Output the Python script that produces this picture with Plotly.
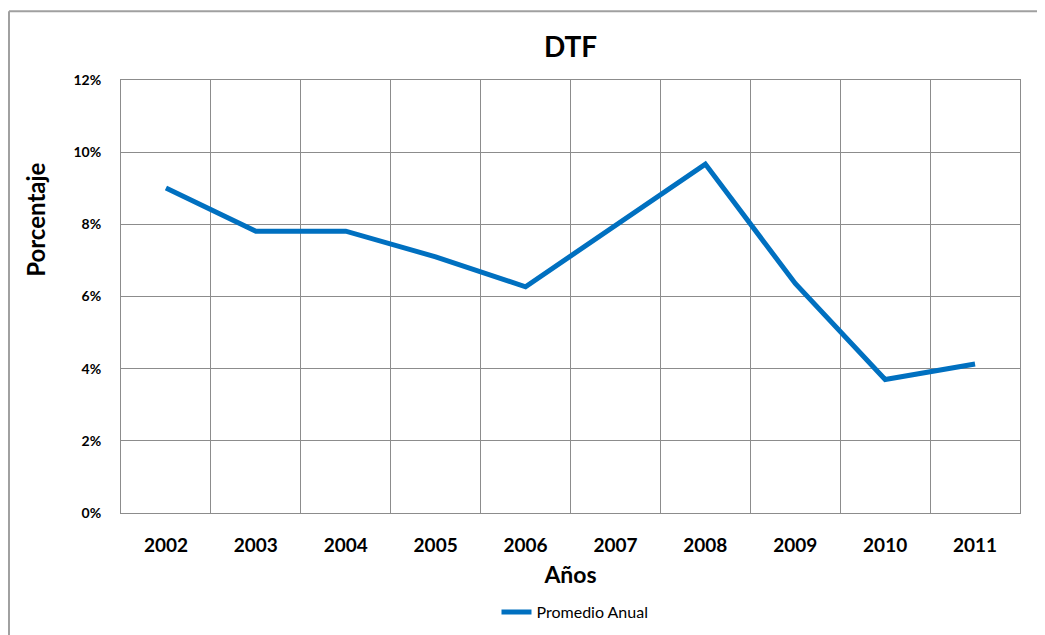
import plotly.graph_objects as go

years = ["2002", "2003", "2004", "2005", "2006", "2007", "2008", "2009", "2010", "2011"]
promedio_anual = [9.01, 7.81, 7.81, 7.10, 6.27, 7.98, 9.67, 6.36, 3.70, 4.13]
y_ticks = [0, 2, 4, 6, 8, 10, 12]
y_tick_labels = [f"{v}%" for v in y_ticks]

x_idx = list(range(len(years)))
FONT = "Lato"
GRID = "#8c8c8c"

fig = go.Figure()
fig.add_trace(go.Scatter(
    x=x_idx, y=promedio_anual, mode="lines", name="Promedio Anual",
    line=dict(color="#0070C0", width=5),
))

fig.update_layout(
    width=1045, height=635,
    margin=dict(l=113, r=33, t=72, b=130),
    paper_bgcolor="white", plot_bgcolor="white",
    font=dict(family=FONT, color="black"),
    title=dict(text="<b>DTF</b>", xref="paper", x=0.5, xanchor="center",
               y=1 - 39 / 635, yanchor="middle",
               font=dict(size=28, family=FONT, color="black")),
    showlegend=True,
    legend=dict(orientation="h", x=0.505, xanchor="center", y=-0.229, yanchor="middle",
                font=dict(size=16, family=FONT, color="black")),
    xaxis=dict(
        range=[-0.5, len(years) - 0.5],
        tickvals=x_idx, ticktext=years,
        showgrid=False, zeroline=False,
        showline=True, linecolor=GRID, linewidth=1, mirror=True,
        tickfont=dict(size=19, family=FONT, color="black", weight="bold"),
        ticks="", ticklabelstandoff=15,
        minor=dict(tick0=0.5, dtick=1, showgrid=True, gridcolor=GRID, gridwidth=1, ticks=""),
        title=dict(text="<b>Años</b>", font=dict(size=23, family=FONT, color="black"), standoff=12),
    ),
    yaxis=dict(
        range=[0, 12], tickvals=y_ticks, ticktext=y_tick_labels,
        showgrid=True, gridcolor=GRID, gridwidth=1, zeroline=False,
        showline=True, linecolor=GRID, linewidth=1, mirror=True,
        tickfont=dict(size=14, family=FONT, color="black", weight="bold"),
        ticks="", ticklabelstandoff=16,
    ),
    annotations=[dict(
        text="<b>Porcentaje</b>", xref="paper", yref="paper",
        x=-0.0946, y=0.677, xanchor="center", yanchor="middle",
        textangle=-90, showarrow=False,
        font=dict(size=24, family=FONT, color="black"),
    )],
)

# Outer chart-area frame (top and left edges visible)
fig.add_shape(type="line", xref="paper", yref="paper", x0=-0.1246, x1=1.2, y0=1.159, y1=1.159,
              line=dict(color="#a0a0a0", width=2))
fig.add_shape(type="line", xref="paper", yref="paper", x0=-0.1246, x1=-0.1246, y0=1.159, y1=-0.4,
              line=dict(color="#a0a0a0", width=2))

fig.write_html("out.html")
